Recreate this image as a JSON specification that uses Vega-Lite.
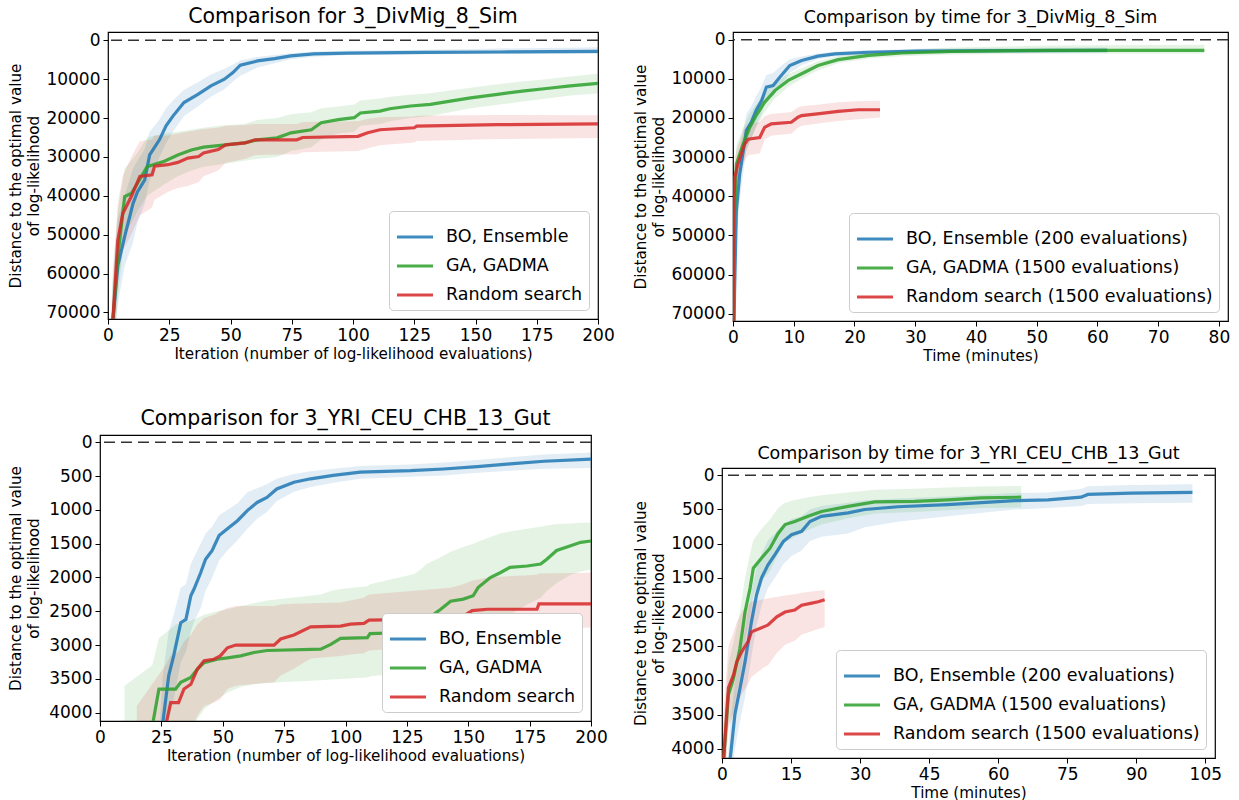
{
"$schema": "https://vega.github.io/schema/vega-lite/v6.json",
"padding": {"left": 7, "top": 6, "right": 0, "bottom": 0},
"background": "white",
"config": {
  "font": "DejaVu Sans",
  "view": {"stroke": "black", "strokeWidth": 1.2},
  "axis": {"domain": false, "grid": false, "ticks": true, "tickColor": "black", "tickSize": 5, "tickWidth": 1, "labelColor": "black", "labelFont": "DejaVu Sans", "labelFontSize": 17, "labelPadding": 3, "titleFont": "DejaVu Sans", "titleFontSize": 15.2, "titleFontWeight": "normal", "titleColor": "black", "labelFlush": false, "labelOverlap": false},
  "axisY": {"titlePadding": 4, "titleLineHeight": 18},
  "axisX": {"titlePadding": 3},
  "title": {"font": "DejaVu Sans", "fontWeight": "normal", "color": "black", "offset": 4}
},
"datasets": {
"d": [
{"p":1,"k":"BO","x":1,"y":95000,"lo":80000,"hi":110000},
{"p":1,"k":"BO","x":2,"y":72000,"lo":62000,"hi":82000},
{"p":1,"k":"BO","x":4,"y":58000,"lo":46000,"hi":68000},
{"p":1,"k":"BO","x":6.8,"y":50500,"lo":40000,"hi":58000},
{"p":1,"k":"BO","x":10.2,"y":42000,"lo":33000,"hi":52000},
{"p":1,"k":"BO","x":12,"y":39000,"lo":31000,"hi":47000},
{"p":1,"k":"BO","x":15,"y":35900,"lo":28000,"hi":42000},
{"p":1,"k":"BO","x":17,"y":29500,"lo":23500,"hi":36000},
{"p":1,"k":"BO","x":21,"y":25600,"lo":20400,"hi":30000},
{"p":1,"k":"BO","x":23.7,"y":22000,"lo":17500,"hi":26500},
{"p":1,"k":"BO","x":26.5,"y":19500,"lo":15500,"hi":23500},
{"p":1,"k":"BO","x":31,"y":16000,"lo":12800,"hi":19500},
{"p":1,"k":"BO","x":36.7,"y":13900,"lo":10800,"hi":17000},
{"p":1,"k":"BO","x":42,"y":11700,"lo":8800,"hi":14500},
{"p":1,"k":"BO","x":47.5,"y":10000,"lo":7300,"hi":12600},
{"p":1,"k":"BO","x":51,"y":8300,"lo":6200,"hi":10600},
{"p":1,"k":"BO","x":54,"y":6400,"lo":5200,"hi":9100},
{"p":1,"k":"BO","x":61,"y":5300,"lo":4300,"hi":7000},
{"p":1,"k":"BO","x":68,"y":4700,"lo":3800,"hi":5900},
{"p":1,"k":"BO","x":74.6,"y":4000,"lo":3300,"hi":4900},
{"p":1,"k":"BO","x":84,"y":3500,"lo":2900,"hi":4200},
{"p":1,"k":"BO","x":98,"y":3300,"lo":2700,"hi":3800},
{"p":1,"k":"BO","x":130,"y":3100,"lo":2400,"hi":3600},
{"p":1,"k":"BO","x":160,"y":3000,"lo":2100,"hi":3500},
{"p":1,"k":"BO","x":200,"y":2850,"lo":1800,"hi":3500},
{"p":1,"k":"GA","x":1,"y":95000,"lo":75000,"hi":110000},
{"p":1,"k":"GA","x":2,"y":72000,"lo":58000,"hi":85000},
{"p":1,"k":"GA","x":4,"y":55700,"lo":44000,"hi":66000},
{"p":1,"k":"GA","x":6.8,"y":40200,"lo":33000,"hi":50000},
{"p":1,"k":"GA","x":9.5,"y":39400,"lo":31000,"hi":47000},
{"p":1,"k":"GA","x":12,"y":36800,"lo":29000,"hi":44000},
{"p":1,"k":"GA","x":16,"y":32500,"lo":25000,"hi":40000},
{"p":1,"k":"GA","x":23,"y":31100,"lo":24000,"hi":37000},
{"p":1,"k":"GA","x":28.5,"y":29500,"lo":23500,"hi":35000},
{"p":1,"k":"GA","x":34,"y":28200,"lo":23000,"hi":33500},
{"p":1,"k":"GA","x":39,"y":27500,"lo":22500,"hi":32500},
{"p":1,"k":"GA","x":45,"y":27100,"lo":22000,"hi":32000},
{"p":1,"k":"GA","x":55.7,"y":26400,"lo":21500,"hi":31000},
{"p":1,"k":"GA","x":61,"y":25600,"lo":20500,"hi":30500},
{"p":1,"k":"GA","x":69,"y":25100,"lo":20000,"hi":30000},
{"p":1,"k":"GA","x":74.7,"y":23800,"lo":19000,"hi":28500},
{"p":1,"k":"GA","x":83,"y":23000,"lo":18500,"hi":27500},
{"p":1,"k":"GA","x":87,"y":21200,"lo":17500,"hi":25500},
{"p":1,"k":"GA","x":94,"y":20400,"lo":17000,"hi":24000},
{"p":1,"k":"GA","x":100.5,"y":19900,"lo":16500,"hi":23500},
{"p":1,"k":"GA","x":103,"y":18700,"lo":15500,"hi":22000},
{"p":1,"k":"GA","x":111,"y":18200,"lo":15000,"hi":21500},
{"p":1,"k":"GA","x":115,"y":17600,"lo":14500,"hi":20800},
{"p":1,"k":"GA","x":123.5,"y":16900,"lo":14000,"hi":20000},
{"p":1,"k":"GA","x":131.6,"y":16500,"lo":13600,"hi":19500},
{"p":1,"k":"GA","x":141,"y":15500,"lo":12800,"hi":18300},
{"p":1,"k":"GA","x":148,"y":14800,"lo":12200,"hi":17500},
{"p":1,"k":"GA","x":159,"y":13900,"lo":11300,"hi":16600},
{"p":1,"k":"GA","x":170,"y":13000,"lo":10500,"hi":15700},
{"p":1,"k":"GA","x":179,"y":12400,"lo":10000,"hi":15000},
{"p":1,"k":"GA","x":188.7,"y":11700,"lo":9300,"hi":14200},
{"p":1,"k":"GA","x":200,"y":11100,"lo":8600,"hi":13700},
{"p":1,"k":"RS","x":1,"y":95000,"lo":80000,"hi":110000},
{"p":1,"k":"RS","x":2,"y":72000,"lo":62000,"hi":84000},
{"p":1,"k":"RS","x":4,"y":51500,"lo":42000,"hi":62000},
{"p":1,"k":"RS","x":6,"y":44600,"lo":35000,"hi":54000},
{"p":1,"k":"RS","x":9.5,"y":40200,"lo":30000,"hi":50000},
{"p":1,"k":"RS","x":13,"y":35000,"lo":26000,"hi":45000},
{"p":1,"k":"RS","x":18,"y":34600,"lo":25500,"hi":43000},
{"p":1,"k":"RS","x":19,"y":32400,"lo":24500,"hi":41000},
{"p":1,"k":"RS","x":24.4,"y":32000,"lo":24500,"hi":39000},
{"p":1,"k":"RS","x":28.5,"y":31400,"lo":24000,"hi":38000},
{"p":1,"k":"RS","x":32.6,"y":30300,"lo":23500,"hi":37500},
{"p":1,"k":"RS","x":37,"y":29900,"lo":23000,"hi":36500},
{"p":1,"k":"RS","x":39,"y":29000,"lo":22800,"hi":35000},
{"p":1,"k":"RS","x":45,"y":28100,"lo":22500,"hi":33500},
{"p":1,"k":"RS","x":48,"y":26900,"lo":22000,"hi":31500},
{"p":1,"k":"RS","x":56,"y":26400,"lo":21800,"hi":30500},
{"p":1,"k":"RS","x":60,"y":25600,"lo":21500,"hi":29500},
{"p":1,"k":"RS","x":77,"y":25600,"lo":21500,"hi":29300},
{"p":1,"k":"RS","x":79.5,"y":25000,"lo":21000,"hi":28800},
{"p":1,"k":"RS","x":102,"y":24700,"lo":20800,"hi":28500},
{"p":1,"k":"RS","x":106,"y":23800,"lo":20200,"hi":27800},
{"p":1,"k":"RS","x":111,"y":23000,"lo":19800,"hi":27000},
{"p":1,"k":"RS","x":125,"y":22500,"lo":19600,"hi":26300},
{"p":1,"k":"RS","x":126,"y":22100,"lo":19400,"hi":25900},
{"p":1,"k":"RS","x":159,"y":21700,"lo":19200,"hi":25400},
{"p":1,"k":"RS","x":200,"y":21500,"lo":19300,"hi":25100},

{"p":2,"k":"BO","x":0,"y":95000,"lo":80000,"hi":110000},
{"p":2,"k":"BO","x":0.25,"y":65000,"lo":55000,"hi":75000},
{"p":2,"k":"BO","x":0.55,"y":43800,"lo":36000,"hi":52000},
{"p":2,"k":"BO","x":1.1,"y":34400,"lo":28000,"hi":41000},
{"p":2,"k":"BO","x":2.2,"y":23200,"lo":19000,"hi":28000},
{"p":2,"k":"BO","x":3,"y":21100,"lo":17000,"hi":25500},
{"p":2,"k":"BO","x":3.8,"y":18100,"lo":14500,"hi":22000},
{"p":2,"k":"BO","x":4.7,"y":15600,"lo":12000,"hi":19000},
{"p":2,"k":"BO","x":5.5,"y":12100,"lo":9000,"hi":15000},
{"p":2,"k":"BO","x":6.6,"y":11700,"lo":8500,"hi":14500},
{"p":2,"k":"BO","x":7.7,"y":9600,"lo":7000,"hi":12000},
{"p":2,"k":"BO","x":9.35,"y":6600,"lo":5000,"hi":8500},
{"p":2,"k":"BO","x":11.3,"y":5300,"lo":4300,"hi":6500},
{"p":2,"k":"BO","x":14,"y":4200,"lo":3500,"hi":5000},
{"p":2,"k":"BO","x":16.8,"y":3600,"lo":3000,"hi":4300},
{"p":2,"k":"BO","x":22.3,"y":3200,"lo":2700,"hi":3800},
{"p":2,"k":"BO","x":30.5,"y":2900,"lo":2300,"hi":3500},
{"p":2,"k":"BO","x":45,"y":2800,"lo":2100,"hi":3400},
{"p":2,"k":"BO","x":61.6,"y":2700,"lo":2000,"hi":3400},
{"p":2,"k":"GA","x":0,"y":95000,"lo":80000,"hi":110000},
{"p":2,"k":"GA","x":0.25,"y":45000,"lo":38000,"hi":52000},
{"p":2,"k":"GA","x":0.55,"y":31800,"lo":27000,"hi":37000},
{"p":2,"k":"GA","x":1.65,"y":26700,"lo":22500,"hi":31000},
{"p":2,"k":"GA","x":2.75,"y":22400,"lo":19000,"hi":26000},
{"p":2,"k":"GA","x":3.8,"y":19400,"lo":16500,"hi":22500},
{"p":2,"k":"GA","x":5.2,"y":16000,"lo":13500,"hi":18500},
{"p":2,"k":"GA","x":6.9,"y":13000,"lo":11000,"hi":15000},
{"p":2,"k":"GA","x":9.1,"y":10400,"lo":8800,"hi":12000},
{"p":2,"k":"GA","x":11.3,"y":8700,"lo":7300,"hi":10000},
{"p":2,"k":"GA","x":14,"y":6600,"lo":5500,"hi":7800},
{"p":2,"k":"GA","x":17.3,"y":5100,"lo":4200,"hi":6000},
{"p":2,"k":"GA","x":22.3,"y":4000,"lo":3300,"hi":4800},
{"p":2,"k":"GA","x":27.8,"y":3400,"lo":2600,"hi":4200},
{"p":2,"k":"GA","x":36,"y":3000,"lo":2000,"hi":3800},
{"p":2,"k":"GA","x":52.5,"y":2700,"lo":1500,"hi":3600},
{"p":2,"k":"GA","x":77.6,"y":2700,"lo":1300,"hi":3500},
{"p":2,"k":"RS","x":0,"y":95000,"lo":80000,"hi":110000},
{"p":2,"k":"RS","x":0.1,"y":45000,"lo":38000,"hi":52000},
{"p":2,"k":"RS","x":0.3,"y":35100,"lo":30000,"hi":40000},
{"p":2,"k":"RS","x":0.8,"y":31800,"lo":27000,"hi":36500},
{"p":2,"k":"RS","x":1.9,"y":26700,"lo":22500,"hi":31000},
{"p":2,"k":"RS","x":2.5,"y":25400,"lo":21500,"hi":29500},
{"p":2,"k":"RS","x":4.4,"y":25000,"lo":21000,"hi":29000},
{"p":2,"k":"RS","x":5.2,"y":22400,"lo":19500,"hi":25500},
{"p":2,"k":"RS","x":6.3,"y":21500,"lo":19000,"hi":24500},
{"p":2,"k":"RS","x":9.6,"y":21100,"lo":18500,"hi":24000},
{"p":2,"k":"RS","x":10.7,"y":19800,"lo":17300,"hi":22500},
{"p":2,"k":"RS","x":11.3,"y":19400,"lo":17000,"hi":22000},
{"p":2,"k":"RS","x":14.6,"y":18800,"lo":16500,"hi":21300},
{"p":2,"k":"RS","x":17.3,"y":18300,"lo":16000,"hi":20800},
{"p":2,"k":"RS","x":20.6,"y":17900,"lo":15700,"hi":20300},
{"p":2,"k":"RS","x":24.2,"y":17900,"lo":15600,"hi":19900},

{"p":3,"k":"BO","x":24,"y":5000,"lo":4400,"hi":5600},
{"p":3,"k":"BO","x":25.4,"y":4200,"lo":3500,"hi":4800},
{"p":3,"k":"BO","x":28,"y":3450,"lo":2800,"hi":4100},
{"p":3,"k":"BO","x":30,"y":3160,"lo":2550,"hi":3800},
{"p":3,"k":"BO","x":32.9,"y":2670,"lo":2150,"hi":3250},
{"p":3,"k":"BO","x":35,"y":2620,"lo":2100,"hi":3100},
{"p":3,"k":"BO","x":37,"y":2270,"lo":1800,"hi":2800},
{"p":3,"k":"BO","x":38.3,"y":2170,"lo":1700,"hi":2650},
{"p":3,"k":"BO","x":41,"y":1930,"lo":1500,"hi":2450},
{"p":3,"k":"BO","x":43,"y":1730,"lo":1350,"hi":2200},
{"p":3,"k":"BO","x":45.7,"y":1600,"lo":1250,"hi":2000},
{"p":3,"k":"BO","x":48.5,"y":1380,"lo":1080,"hi":1750},
{"p":3,"k":"BO","x":51.9,"y":1280,"lo":1000,"hi":1600},
{"p":3,"k":"BO","x":56,"y":1160,"lo":900,"hi":1450},
{"p":3,"k":"BO","x":60,"y":1010,"lo":740,"hi":1280},
{"p":3,"k":"BO","x":64,"y":890,"lo":680,"hi":1130},
{"p":3,"k":"BO","x":68,"y":815,"lo":620,"hi":1030},
{"p":3,"k":"BO","x":72,"y":690,"lo":540,"hi":870},
{"p":3,"k":"BO","x":79,"y":590,"lo":470,"hi":730},
{"p":3,"k":"BO","x":85.8,"y":540,"lo":430,"hi":660},
{"p":3,"k":"BO","x":95,"y":490,"lo":390,"hi":600},
{"p":3,"k":"BO","x":106,"y":440,"lo":350,"hi":540},
{"p":3,"k":"BO","x":126.5,"y":420,"lo":330,"hi":510},
{"p":3,"k":"BO","x":140,"y":395,"lo":300,"hi":490},
{"p":3,"k":"BO","x":153.7,"y":360,"lo":260,"hi":450},
{"p":3,"k":"BO","x":167,"y":320,"lo":220,"hi":420},
{"p":3,"k":"BO","x":180.9,"y":280,"lo":180,"hi":390},
{"p":3,"k":"BO","x":200,"y":250,"lo":150,"hi":380},
{"p":3,"k":"GA","x":10,"y":5000,"lo":3600,"hi":6000},
{"p":3,"k":"GA","x":21.3,"y":4200,"lo":3300,"hi":5000},
{"p":3,"k":"GA","x":24,"y":3650,"lo":2900,"hi":4400},
{"p":3,"k":"GA","x":30.8,"y":3650,"lo":2700,"hi":4400},
{"p":3,"k":"GA","x":32.9,"y":3550,"lo":2680,"hi":4300},
{"p":3,"k":"GA","x":37,"y":3480,"lo":2640,"hi":4200},
{"p":3,"k":"GA","x":39.6,"y":3360,"lo":2600,"hi":4100},
{"p":3,"k":"GA","x":42.4,"y":3260,"lo":2550,"hi":3950},
{"p":3,"k":"GA","x":47.8,"y":3210,"lo":2500,"hi":3800},
{"p":3,"k":"GA","x":51.9,"y":3190,"lo":2470,"hi":3700},
{"p":3,"k":"GA","x":57.3,"y":3160,"lo":2420,"hi":3620},
{"p":3,"k":"GA","x":62.7,"y":3110,"lo":2380,"hi":3580},
{"p":3,"k":"GA","x":68,"y":3080,"lo":2340,"hi":3560},
{"p":3,"k":"GA","x":89.9,"y":3060,"lo":2250,"hi":3520},
{"p":3,"k":"GA","x":94,"y":2990,"lo":2200,"hi":3510},
{"p":3,"k":"GA","x":98,"y":2900,"lo":2170,"hi":3500},
{"p":3,"k":"GA","x":108.9,"y":2890,"lo":2130,"hi":3480},
{"p":3,"k":"GA","x":110,"y":2830,"lo":2100,"hi":3460},
{"p":3,"k":"GA","x":128,"y":2810,"lo":1950,"hi":3400},
{"p":3,"k":"GA","x":130.6,"y":2720,"lo":1880,"hi":3350},
{"p":3,"k":"GA","x":133,"y":2620,"lo":1800,"hi":3280},
{"p":3,"k":"GA","x":138.8,"y":2470,"lo":1700,"hi":3180},
{"p":3,"k":"GA","x":142.8,"y":2350,"lo":1620,"hi":3080},
{"p":3,"k":"GA","x":148,"y":2320,"lo":1550,"hi":3000},
{"p":3,"k":"GA","x":152,"y":2270,"lo":1500,"hi":2930},
{"p":3,"k":"GA","x":154,"y":2150,"lo":1470,"hi":2880},
{"p":3,"k":"GA","x":159,"y":2000,"lo":1400,"hi":2780},
{"p":3,"k":"GA","x":163,"y":1930,"lo":1350,"hi":2680},
{"p":3,"k":"GA","x":167,"y":1850,"lo":1320,"hi":2550},
{"p":3,"k":"GA","x":174,"y":1830,"lo":1280,"hi":2400},
{"p":3,"k":"GA","x":179.5,"y":1800,"lo":1250,"hi":2300},
{"p":3,"k":"GA","x":182,"y":1730,"lo":1230,"hi":2200},
{"p":3,"k":"GA","x":186,"y":1600,"lo":1210,"hi":2080},
{"p":3,"k":"GA","x":191.7,"y":1530,"lo":1200,"hi":1960},
{"p":3,"k":"GA","x":195.8,"y":1480,"lo":1190,"hi":1910},
{"p":3,"k":"GA","x":200,"y":1460,"lo":1190,"hi":1880},
{"p":3,"k":"RS","x":15,"y":5000,"lo":3900,"hi":6000},
{"p":3,"k":"RS","x":26.7,"y":4200,"lo":3300,"hi":4900},
{"p":3,"k":"RS","x":28.8,"y":3850,"lo":3150,"hi":4600},
{"p":3,"k":"RS","x":32,"y":3850,"lo":3100,"hi":4500},
{"p":3,"k":"RS","x":34.2,"y":3650,"lo":2950,"hi":4350},
{"p":3,"k":"RS","x":37,"y":3580,"lo":2850,"hi":4250},
{"p":3,"k":"RS","x":39.6,"y":3360,"lo":2700,"hi":4050},
{"p":3,"k":"RS","x":42.4,"y":3230,"lo":2600,"hi":3900},
{"p":3,"k":"RS","x":46.4,"y":3210,"lo":2550,"hi":3850},
{"p":3,"k":"RS","x":49,"y":3160,"lo":2500,"hi":3800},
{"p":3,"k":"RS","x":51.9,"y":3040,"lo":2450,"hi":3650},
{"p":3,"k":"RS","x":55.3,"y":3000,"lo":2420,"hi":3600},
{"p":3,"k":"RS","x":70.9,"y":3000,"lo":2420,"hi":3550},
{"p":3,"k":"RS","x":73.6,"y":2910,"lo":2400,"hi":3450},
{"p":3,"k":"RS","x":79,"y":2850,"lo":2390,"hi":3350},
{"p":3,"k":"RS","x":85.8,"y":2730,"lo":2380,"hi":3200},
{"p":3,"k":"RS","x":98,"y":2720,"lo":2370,"hi":3160},
{"p":3,"k":"RS","x":102,"y":2690,"lo":2340,"hi":3140},
{"p":3,"k":"RS","x":107.5,"y":2680,"lo":2300,"hi":3120},
{"p":3,"k":"RS","x":109.6,"y":2630,"lo":2250,"hi":3080},
{"p":3,"k":"RS","x":142.8,"y":2610,"lo":2150,"hi":3000},
{"p":3,"k":"RS","x":148,"y":2570,"lo":2100,"hi":2960},
{"p":3,"k":"RS","x":151.6,"y":2490,"lo":2050,"hi":2900},
{"p":3,"k":"RS","x":157.7,"y":2470,"lo":2000,"hi":2850},
{"p":3,"k":"RS","x":178,"y":2470,"lo":1960,"hi":2800},
{"p":3,"k":"RS","x":178.8,"y":2390,"lo":1940,"hi":2760},
{"p":3,"k":"RS","x":200,"y":2390,"lo":1930,"hi":2740},

{"p":4,"k":"BO","x":1,"y":5000,"lo":4400,"hi":5600},
{"p":4,"k":"BO","x":1.7,"y":4200,"lo":3700,"hi":4700},
{"p":4,"k":"BO","x":2.8,"y":3500,"lo":3050,"hi":4000},
{"p":4,"k":"BO","x":3.9,"y":3120,"lo":2650,"hi":3600},
{"p":4,"k":"BO","x":5,"y":2730,"lo":2250,"hi":3250},
{"p":4,"k":"BO","x":6.4,"y":2140,"lo":1700,"hi":2650},
{"p":4,"k":"BO","x":7.5,"y":1750,"lo":1350,"hi":2200},
{"p":4,"k":"BO","x":8.6,"y":1500,"lo":1150,"hi":1900},
{"p":4,"k":"BO","x":10,"y":1310,"lo":950,"hi":1650},
{"p":4,"k":"BO","x":11.5,"y":1160,"lo":850,"hi":1500},
{"p":4,"k":"BO","x":13.3,"y":970,"lo":720,"hi":1300},
{"p":4,"k":"BO","x":15.1,"y":870,"lo":640,"hi":1180},
{"p":4,"k":"BO","x":17.3,"y":820,"lo":600,"hi":1100},
{"p":4,"k":"BO","x":19.1,"y":675,"lo":500,"hi":960},
{"p":4,"k":"BO","x":21.6,"y":600,"lo":450,"hi":900},
{"p":4,"k":"BO","x":27.4,"y":550,"lo":400,"hi":850},
{"p":4,"k":"BO","x":31,"y":500,"lo":370,"hi":760},
{"p":4,"k":"BO","x":38.2,"y":460,"lo":340,"hi":680},
{"p":4,"k":"BO","x":49,"y":430,"lo":310,"hi":600},
{"p":4,"k":"BO","x":63.6,"y":370,"lo":260,"hi":500},
{"p":4,"k":"BO","x":70.8,"y":360,"lo":250,"hi":480},
{"p":4,"k":"BO","x":78,"y":320,"lo":200,"hi":450},
{"p":4,"k":"BO","x":79.5,"y":280,"lo":160,"hi":420},
{"p":4,"k":"BO","x":88.9,"y":260,"lo":140,"hi":410},
{"p":4,"k":"BO","x":102.2,"y":250,"lo":130,"hi":400},
{"p":4,"k":"GA","x":0,"y":5000,"lo":4400,"hi":5600},
{"p":4,"k":"GA","x":0.3,"y":4200,"lo":3700,"hi":4700},
{"p":4,"k":"GA","x":1.4,"y":3210,"lo":2750,"hi":3650},
{"p":4,"k":"GA","x":2.5,"y":2970,"lo":2450,"hi":3450},
{"p":4,"k":"GA","x":3.9,"y":2530,"lo":2000,"hi":2950},
{"p":4,"k":"GA","x":5,"y":2000,"lo":1500,"hi":2450},
{"p":4,"k":"GA","x":6.1,"y":1650,"lo":1150,"hi":2050},
{"p":4,"k":"GA","x":6.8,"y":1360,"lo":950,"hi":1750},
{"p":4,"k":"GA","x":8.6,"y":1210,"lo":780,"hi":1550},
{"p":4,"k":"GA","x":10.4,"y":1070,"lo":650,"hi":1400},
{"p":4,"k":"GA","x":12.2,"y":850,"lo":480,"hi":1150},
{"p":4,"k":"GA","x":13.7,"y":720,"lo":400,"hi":980},
{"p":4,"k":"GA","x":15.8,"y":675,"lo":360,"hi":900},
{"p":4,"k":"GA","x":18.7,"y":600,"lo":320,"hi":800},
{"p":4,"k":"GA","x":21.6,"y":530,"lo":290,"hi":720},
{"p":4,"k":"GA","x":27.4,"y":455,"lo":250,"hi":630},
{"p":4,"k":"GA","x":33.2,"y":390,"lo":210,"hi":560},
{"p":4,"k":"GA","x":41.9,"y":380,"lo":195,"hi":535},
{"p":4,"k":"GA","x":49,"y":360,"lo":180,"hi":510},
{"p":4,"k":"GA","x":56.3,"y":330,"lo":165,"hi":480},
{"p":4,"k":"GA","x":65,"y":320,"lo":155,"hi":470},
{"p":4,"k":"RS","x":0,"y":5000,"lo":4300,"hi":5700},
{"p":4,"k":"RS","x":0.3,"y":4200,"lo":3500,"hi":4800},
{"p":4,"k":"RS","x":1.4,"y":3110,"lo":2500,"hi":3700},
{"p":4,"k":"RS","x":2.5,"y":2920,"lo":2300,"hi":3500},
{"p":4,"k":"RS","x":3.2,"y":2730,"lo":2150,"hi":3350},
{"p":4,"k":"RS","x":4.3,"y":2580,"lo":2000,"hi":3200},
{"p":4,"k":"RS","x":5.7,"y":2430,"lo":1900,"hi":3050},
{"p":4,"k":"RS","x":6.4,"y":2290,"lo":1850,"hi":2950},
{"p":4,"k":"RS","x":9.3,"y":2210,"lo":1810,"hi":2800},
{"p":4,"k":"RS","x":10,"y":2190,"lo":1800,"hi":2780},
{"p":4,"k":"RS","x":11.9,"y":2070,"lo":1780,"hi":2600},
{"p":4,"k":"RS","x":13.7,"y":2000,"lo":1760,"hi":2480},
{"p":4,"k":"RS","x":15.8,"y":1970,"lo":1740,"hi":2420},
{"p":4,"k":"RS","x":17.3,"y":1900,"lo":1720,"hi":2330},
{"p":4,"k":"RS","x":19.5,"y":1870,"lo":1700,"hi":2280},
{"p":4,"k":"RS","x":20.9,"y":1850,"lo":1690,"hi":2250},
{"p":4,"k":"RS","x":22.3,"y":1820,"lo":1680,"hi":2220}
]
},
"resolve": {"scale": {"x": "independent", "y": "independent", "stroke": "independent", "fill": "independent"}, "legend": {"stroke": "independent", "fill": "independent"}},
"spacing": 17,
"hconcat": [
 {
  "concat": [
   {
    "spacing": 0,
    "resolve": {"scale": {"x": "independent", "y": "independent", "stroke": "independent", "fill": "independent"}, "legend": {"stroke": "independent", "fill": "independent"}},
    "hconcat": [
     {"width": 1, "height": 1, "view": {"stroke": null}, "data": {"values": [{}]}, "mark": {"type": "point", "opacity": 0, "size": 0}, "encoding": {}},
     {
      "width": 490, "height": 287,
      "title": {"text": "Comparison for 3_DivMig_8_Sim", "fontSize": 20.5},
      "data": {"name": "d"},
      "transform": [{"filter": "datum.p == 1"}],
      "layer": [
       {"mark": {"type": "area", "opacity": 0.13, "clip": true},
        "encoding": {
         "x": {"field": "x", "type": "quantitative", "scale": {"domain": [0, 200], "nice": false, "zero": false}, "axis": {"values": [0,25,50,75,100,125,150,175,200], "labelOverlap": false, "title": "Iteration (number of log-likelihood evaluations)"}},
         "y": {"field": "lo", "type": "quantitative", "scale": {"domain": [-2140, 71700], "reverse": true, "nice": false, "zero": false}, "axis": {"values": [0,10000,20000,30000,40000,50000,60000,70000], "tickCount": 8, "labelOverlap": false, "format": "d", "title": ["Distance to the optimal value", "of log-likelihood"]}},
         "y2": {"field": "hi"},
         "fill": {"field": "k", "type": "nominal", "scale": {"range": ["#1f77b4","#2ca02c","#d62728"]}, "legend": null}
        }},
       {"mark": {"type": "line", "strokeWidth": 3.2, "opacity": 0.85, "clip": true},
        "encoding": {
         "x": {"field": "x", "type": "quantitative", "axis": {"values": [0,25,50,75,100,125,150,175,200], "labelOverlap": false, "title": "Iteration (number of log-likelihood evaluations)"}},
         "y": {"field": "y", "type": "quantitative", "axis": {"values": [0,10000,20000,30000,40000,50000,60000,70000], "tickCount": 8, "labelOverlap": false, "format": "d", "title": ["Distance to the optimal value", "of log-likelihood"]}},
         "stroke": {"field": "k", "type": "nominal", "scale": {"domain": ["BO","GA","RS"], "range": ["#1f77b4","#2ca02c","#d62728"]}, "legend": {"orient": "bottom-right", "offset": 9, "title": null, "fillColor": "white", "strokeColor": "#cccccc", "cornerRadius": 4, "padding": 6, "symbolType": "stroke", "symbolSize": 1300, "symbolStrokeWidth": 3.2, "labelFontSize": 17.5, "labelOffset": 11, "labelColor": "black", "labelLimit": 500, "rowPadding": -3, "labelExpr": "datum.label == 'BO' ? 'BO, Ensemble' : datum.label == 'GA' ? 'GA, GADMA' : 'Random search'"}}
        }},
       {"data": {"values": [{}]}, "mark": {"type": "rule", "color": "#333333", "strokeWidth": 1.5, "strokeDash": [11, 6]},
        "encoding": {"y": {"datum": 0, "type": "quantitative", "axis": {"values": [0,10000,20000,30000,40000,50000,60000,70000], "tickCount": 8, "labelOverlap": false, "format": "d", "title": ["Distance to the optimal value", "of log-likelihood"]}}}}
      ]
     }
    ]
   },
   {
    "spacing": 0,
    "resolve": {"scale": {"x": "independent", "y": "independent", "stroke": "independent", "fill": "independent"}, "legend": {"stroke": "independent", "fill": "independent"}},
    "hconcat": [
     {"width": 1, "height": 1, "view": {"stroke": null}, "data": {"values": [{}]}, "mark": {"type": "point", "opacity": 0, "size": 0}, "encoding": {}},
     {
      "width": 491, "height": 286,
      "title": {"text": "Comparison for 3_YRI_CEU_CHB_13_Gut", "fontSize": 20.5},
      "data": {"name": "d"},
      "transform": [{"filter": "datum.p == 3"}],
      "layer": [
       {"mark": {"type": "area", "opacity": 0.13, "clip": true},
        "encoding": {
         "x": {"field": "x", "type": "quantitative", "scale": {"domain": [0, 200], "nice": false, "zero": false}, "axis": {"values": [0,25,50,75,100,125,150,175,200], "labelOverlap": false, "title": "Iteration (number of log-likelihood evaluations)"}},
         "y": {"field": "lo", "type": "quantitative", "scale": {"domain": [-108, 4123], "reverse": true, "nice": false, "zero": false}, "axis": {"values": [0,500,1000,1500,2000,2500,3000,3500,4000], "tickCount": 9, "labelOverlap": false, "format": "d", "titlePadding": 7, "title": ["Distance to the optimal value", "of log-likelihood"]}},
         "y2": {"field": "hi"},
         "fill": {"field": "k", "type": "nominal", "scale": {"range": ["#1f77b4","#2ca02c","#d62728"]}, "legend": null}
        }},
       {"mark": {"type": "line", "strokeWidth": 3.2, "opacity": 0.85, "clip": true},
        "encoding": {
         "x": {"field": "x", "type": "quantitative", "axis": {"values": [0,25,50,75,100,125,150,175,200], "labelOverlap": false, "title": "Iteration (number of log-likelihood evaluations)"}},
         "y": {"field": "y", "type": "quantitative", "axis": {"values": [0,500,1000,1500,2000,2500,3000,3500,4000], "tickCount": 9, "labelOverlap": false, "format": "d", "titlePadding": 7, "title": ["Distance to the optimal value", "of log-likelihood"]}},
         "stroke": {"field": "k", "type": "nominal", "scale": {"domain": ["BO","GA","RS"], "range": ["#1f77b4","#2ca02c","#d62728"]}, "legend": {"orient": "bottom-right", "offset": 9, "title": null, "fillColor": "white", "strokeColor": "#cccccc", "cornerRadius": 4, "padding": 6, "symbolType": "stroke", "symbolSize": 1300, "symbolStrokeWidth": 3.2, "labelFontSize": 17.5, "labelOffset": 11, "labelColor": "black", "labelLimit": 500, "rowPadding": -3, "labelExpr": "datum.label == 'BO' ? 'BO, Ensemble' : datum.label == 'GA' ? 'GA, GADMA' : 'Random search'"}}
        }},
       {"data": {"values": [{}]}, "mark": {"type": "rule", "color": "#333333", "strokeWidth": 1.5, "strokeDash": [11, 6]},
        "encoding": {"y": {"datum": 0, "type": "quantitative", "axis": {"values": [0,500,1000,1500,2000,2500,3000,3500,4000], "tickCount": 9, "labelOverlap": false, "format": "d", "titlePadding": 7, "title": ["Distance to the optimal value", "of log-likelihood"]}}}}
      ]
     }
    ]
   }
  ],
  "columns": 1,
  "spacing": 46,
  "resolve": {"scale": {"x": "independent", "y": "independent", "stroke": "independent", "fill": "independent"}, "legend": {"stroke": "independent", "fill": "independent"}}
 },
 {
  "concat": [
   {
    "spacing": 0,
    "resolve": {"scale": {"x": "independent", "y": "independent", "stroke": "independent", "fill": "independent"}, "legend": {"stroke": "independent", "fill": "independent"}},
    "hconcat": [
     {"width": 1, "height": 1, "view": {"stroke": null}, "data": {"values": [{}]}, "mark": {"type": "point", "opacity": 0, "size": 0}, "encoding": {}},
     {
      "width": 495, "height": 289,
      "title": {"text": "Comparison by time for 3_DivMig_8_Sim", "fontSize": 17.5},
      "data": {"name": "d"},
      "transform": [{"filter": "datum.p == 2"}],
      "layer": [
       {"mark": {"type": "area", "opacity": 0.13, "clip": true},
        "encoding": {
         "x": {"field": "x", "type": "quantitative", "scale": {"domain": [0, 81.5], "nice": false, "zero": false}, "axis": {"values": [0,10,20,30,40,50,60,70,80], "labelOverlap": false, "title": "Time (minutes)"}},
         "y": {"field": "lo", "type": "quantitative", "scale": {"domain": [-1970, 71870], "reverse": true, "nice": false, "zero": false}, "axis": {"values": [0,10000,20000,30000,40000,50000,60000,70000], "tickCount": 8, "labelOverlap": false, "format": "d", "title": ["Distance to the optimal value", "of log-likelihood"]}},
         "y2": {"field": "hi"},
         "fill": {"field": "k", "type": "nominal", "scale": {"range": ["#1f77b4","#2ca02c","#d62728"]}, "legend": null}
        }},
       {"mark": {"type": "line", "strokeWidth": 3.2, "opacity": 0.85, "clip": true},
        "encoding": {
         "x": {"field": "x", "type": "quantitative", "axis": {"values": [0,10,20,30,40,50,60,70,80], "labelOverlap": false, "title": "Time (minutes)"}},
         "y": {"field": "y", "type": "quantitative", "axis": {"values": [0,10000,20000,30000,40000,50000,60000,70000], "tickCount": 8, "labelOverlap": false, "format": "d", "title": ["Distance to the optimal value", "of log-likelihood"]}},
         "stroke": {"field": "k", "type": "nominal", "scale": {"domain": ["BO","GA","RS"], "range": ["#1f77b4","#2ca02c","#d62728"]}, "legend": {"orient": "bottom-right", "offset": 9, "title": null, "fillColor": "white", "strokeColor": "#cccccc", "cornerRadius": 4, "padding": 6, "symbolType": "stroke", "symbolSize": 1300, "symbolStrokeWidth": 3.2, "labelFontSize": 17.5, "labelOffset": 11, "labelColor": "black", "labelLimit": 500, "rowPadding": -3, "labelExpr": "datum.label == 'BO' ? 'BO, Ensemble (200 evaluations)' : datum.label == 'GA' ? 'GA, GADMA (1500 evaluations)' : 'Random search (1500 evaluations)'"}}
        }},
       {"data": {"values": [{}]}, "mark": {"type": "rule", "color": "#333333", "strokeWidth": 1.5, "strokeDash": [11, 6]},
        "encoding": {"y": {"datum": 0, "type": "quantitative", "axis": {"values": [0,10000,20000,30000,40000,50000,60000,70000], "tickCount": 8, "labelOverlap": false, "format": "d", "title": ["Distance to the optimal value", "of log-likelihood"]}}}}
      ]
     }
    ]
   },
   {
    "spacing": 0,
    "resolve": {"scale": {"x": "independent", "y": "independent", "stroke": "independent", "fill": "independent"}, "legend": {"stroke": "independent", "fill": "independent"}},
    "hconcat": [
     {"width": 1, "height": 1, "view": {"stroke": null}, "data": {"values": [{}]}, "mark": {"type": "point", "opacity": 0, "size": 0}, "encoding": {}},
     {
      "width": 493, "height": 290,
      "title": {"text": "Comparison by time for 3_YRI_CEU_CHB_13_Gut", "fontSize": 17.5},
      "data": {"name": "d"},
      "transform": [{"filter": "datum.p == 4"}],
      "layer": [
       {"mark": {"type": "area", "opacity": 0.13, "clip": true},
        "encoding": {
         "x": {"field": "x", "type": "quantitative", "scale": {"domain": [0, 107.1], "nice": false, "zero": false}, "axis": {"values": [0,15,30,45,60,75,90,105], "labelOverlap": false, "title": "Time (minutes)"}},
         "y": {"field": "lo", "type": "quantitative", "scale": {"domain": [-107, 4136], "reverse": true, "nice": false, "zero": false}, "axis": {"values": [0,500,1000,1500,2000,2500,3000,3500,4000], "tickCount": 9, "labelOverlap": false, "format": "d", "title": ["Distance to the optimal value", "of log-likelihood"]}},
         "y2": {"field": "hi"},
         "fill": {"field": "k", "type": "nominal", "scale": {"range": ["#1f77b4","#2ca02c","#d62728"]}, "legend": null}
        }},
       {"mark": {"type": "line", "strokeWidth": 3.2, "opacity": 0.85, "clip": true},
        "encoding": {
         "x": {"field": "x", "type": "quantitative", "axis": {"values": [0,15,30,45,60,75,90,105], "labelOverlap": false, "title": "Time (minutes)"}},
         "y": {"field": "y", "type": "quantitative", "axis": {"values": [0,500,1000,1500,2000,2500,3000,3500,4000], "tickCount": 9, "labelOverlap": false, "format": "d", "title": ["Distance to the optimal value", "of log-likelihood"]}},
         "stroke": {"field": "k", "type": "nominal", "scale": {"domain": ["BO","GA","RS"], "range": ["#1f77b4","#2ca02c","#d62728"]}, "legend": {"orient": "bottom-right", "offset": 9, "title": null, "fillColor": "white", "strokeColor": "#cccccc", "cornerRadius": 4, "padding": 6, "symbolType": "stroke", "symbolSize": 1300, "symbolStrokeWidth": 3.2, "labelFontSize": 17.5, "labelOffset": 11, "labelColor": "black", "labelLimit": 500, "rowPadding": -3, "labelExpr": "datum.label == 'BO' ? 'BO, Ensemble (200 evaluations)' : datum.label == 'GA' ? 'GA, GADMA (1500 evaluations)' : 'Random search (1500 evaluations)'"}}
        }},
       {"data": {"values": [{}]}, "mark": {"type": "rule", "color": "#333333", "strokeWidth": 1.5, "strokeDash": [11, 6]},
        "encoding": {"y": {"datum": 0, "type": "quantitative", "axis": {"values": [0,500,1000,1500,2000,2500,3000,3500,4000], "tickCount": 9, "labelOverlap": false, "format": "d", "title": ["Distance to the optimal value", "of log-likelihood"]}}}}
      ]
     }
    ]
   }
  ],
  "columns": 1,
  "spacing": 80,
  "resolve": {"scale": {"x": "independent", "y": "independent", "stroke": "independent", "fill": "independent"}, "legend": {"stroke": "independent", "fill": "independent"}}
 }
]
}
